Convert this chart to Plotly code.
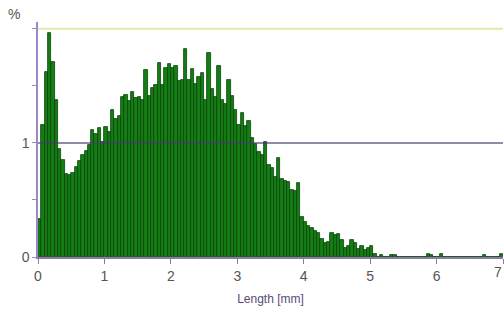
import plotly.graph_objects as go

bin_width = 0.05
percent = [
    0.33, 1.16, 1.62, 1.96, 1.71, 1.38, 0.95, 0.85, 0.73, 0.72,
    0.74, 0.79, 0.84, 0.89, 0.93, 0.98, 1.11, 1.08, 1.13, 1.01,
    1.14, 1.10, 1.29, 1.21, 1.24, 1.40, 1.42, 1.37, 1.45, 1.39,
    1.40, 1.38, 1.64, 1.41, 1.48, 1.51, 1.70, 1.51, 1.66, 1.69,
    1.66, 1.67, 1.54, 1.55, 1.82, 1.55, 1.65, 1.52, 1.58, 1.61,
    1.38, 1.79, 1.47, 1.40, 1.67, 1.38, 1.34, 1.55, 1.41, 1.29,
    1.16, 1.26, 1.15, 1.19, 1.04, 0.99, 0.92, 0.89, 1.01, 0.81,
    0.78, 0.70, 0.87, 0.68, 0.67, 0.66, 0.59, 0.58, 0.65, 0.35,
    0.31, 0.27, 0.25, 0.23, 0.21, 0.16, 0.12, 0.13, 0.21, 0.19,
    0.20, 0.15, 0.08, 0.10, 0.15, 0.12, 0.07, 0.10, 0.06, 0.08,
    0.10, 0.03, 0.00, 0.02, 0.00, 0.00, 0.02, 0.02, 0.00, 0.00,
    0.00, 0.00, 0.00, 0.00, 0.00, 0.00, 0.00, 0.03, 0.02, 0.00,
    0.00, 0.03, 0.00, 0.00, 0.00, 0.00, 0.00, 0.00, 0.00, 0.00,
    0.00, 0.00, 0.00, 0.00, 0.02, 0.00, 0.00, 0.00, 0.00, 0.03,
]
length_mm = [round(bin_width * (i + 0.5), 3) for i in range(len(percent))]

x_ticks = [0, 1, 2, 3, 4, 5, 6, 7]
y_tickvals = [0, 0.5, 1, 1.5, 2]
y_ticktext = ["0", "", "1", "", ""]

fig = go.Figure()
fig.add_trace(go.Bar(
    x=length_mm, y=percent, width=bin_width,
    marker=dict(color="#147d14", line=dict(color="#0a430a", width=0.8)),
    showlegend=False,
))

fig.add_shape(type="line", xref="paper", yref="y", x0=0, x1=1, y0=2, y1=2,
              line=dict(color="#d9eeaa", width=2), layer="above")
fig.add_shape(type="line", xref="paper", yref="y", x0=0, x1=1, y0=1, y1=1,
              line=dict(color="#4a3d6e", width=1.5), layer="above", opacity=0.8)

fig.add_annotation(text="%", xref="paper", yref="paper", x=-0.035, y=1.035,
                   showarrow=False, font=dict(size=14, color="#555555"),
                   xanchor="right", yanchor="middle")
# last tick label at the right edge
fig.add_annotation(text=str(x_ticks[-1]), xref="x", yref="y", x=x_ticks[-1], y=0,
                   yshift=-15, xshift=1, showarrow=False, font=dict(size=14, color="#555555"),
                   xanchor="right", yanchor="middle")

fig.update_layout(
    width=504, height=322,
    margin=dict(l=38, r=1, t=22, b=65),
    paper_bgcolor="white", plot_bgcolor="white",
    font=dict(family="Liberation Sans, Arial, sans-serif", size=14, color="#555555"),
    bargap=0,
    xaxis=dict(range=[0, 7.0], tickvals=x_ticks, ticks="outside", ticklen=5,
               tickcolor="#8a7aa8", showline=True, linecolor="#8a7aa8", linewidth=1.5,
               showgrid=False, zeroline=False, automargin=False,
               title=dict(text="Length [mm]", font=dict(size=12, color="#5a4a7a"), standoff=12)),
    yaxis=dict(range=[0, 2.06], tickvals=y_tickvals, ticktext=y_ticktext,
               ticks="outside", ticklen=4, tickcolor="#9a88c8",
               showline=True, linecolor="#9a88c8", linewidth=1.5,
               showgrid=False, zeroline=False, automargin=False),
)

fig.write_html("out.html", config={"displayModeBar": False},
               post_script="document.body.style.margin='0';")
